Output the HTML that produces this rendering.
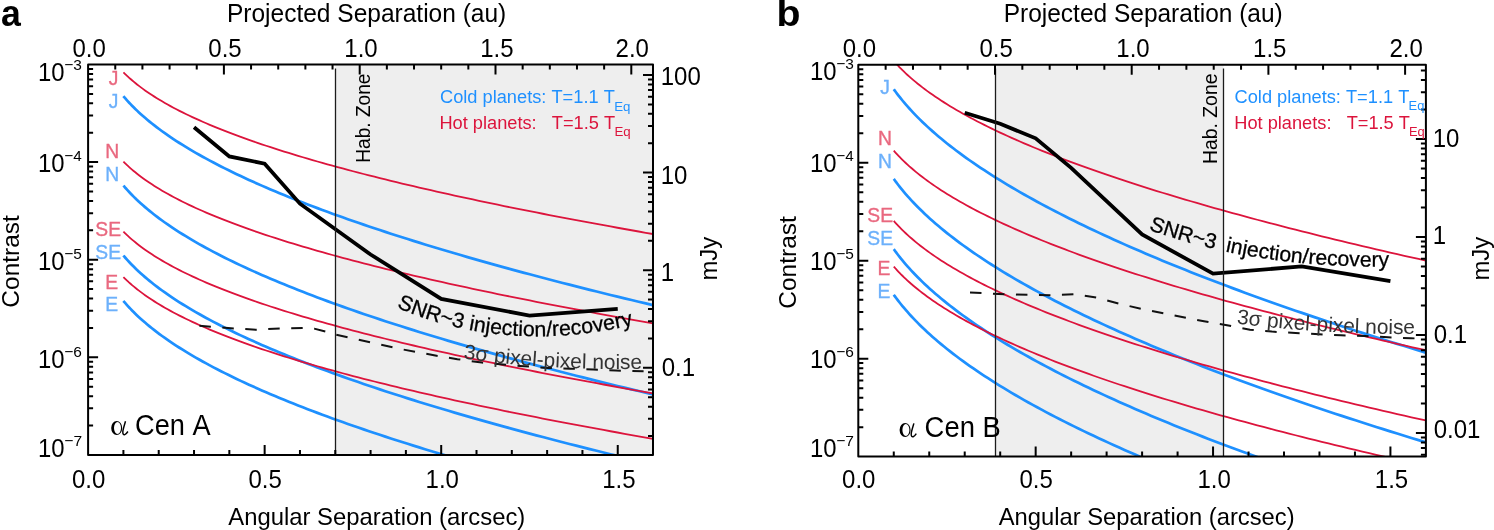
<!DOCTYPE html>
<html><head><meta charset="utf-8"><style>
html,body{margin:0;padding:0;background:#fff;overflow:hidden;}
svg{display:block;will-change:transform;}
text{font-kerning:none;}
</style></head><body>
<svg width="1494" height="530" viewBox="0 0 1494 530" font-family="Liberation Sans, sans-serif"><rect width="1494" height="530" fill="#fff"/><clipPath id="clipa"><rect x="88.10" y="64.50" width="564.90" height="390.40"/></clipPath><rect x="335.50" y="64.50" width="317.50" height="390.40" fill="#eeeeee"/><g clip-path="url(#clipa)" fill="none" stroke-linejoin="round"><path d="M123.41,72.31 L123.67,72.56 L124.19,73.08 L124.90,73.78 L125.77,74.63 L126.78,75.59 L127.92,76.65 L129.18,77.80 L130.55,79.02 L132.03,80.30 L133.62,81.64 L135.30,83.02 L137.07,84.44 L138.94,85.89 L140.90,87.37 L142.94,88.88 L145.06,90.40 L147.27,91.94 L149.55,93.49 L151.91,95.05 L154.35,96.62 L156.86,98.19 L159.45,99.77 L162.10,101.35 L164.83,102.93 L167.63,104.51 L170.49,106.09 L173.42,107.67 L176.42,109.25 L179.48,110.83 L182.60,112.40 L185.79,113.97 L189.04,115.53 L192.35,117.09 L195.73,118.64 L199.16,120.19 L202.65,121.74 L206.20,123.28 L209.81,124.81 L213.48,126.34 L217.20,127.87 L220.98,129.38 L224.82,130.90 L228.71,132.41 L232.65,133.91 L236.65,135.41 L240.70,136.90 L244.81,138.38 L248.97,139.87 L253.18,141.34 L257.44,142.81 L261.76,144.28 L266.13,145.74 L270.54,147.20 L275.01,148.65 L279.53,150.09 L284.09,151.53 L288.71,152.97 L293.37,154.40 L298.08,155.83 L302.85,157.25 L307.65,158.67 L312.51,160.09 L317.41,161.50 L322.36,162.90 L327.36,164.30 L332.41,165.70 L337.49,167.09 L342.63,168.48 L347.81,169.87 L353.04,171.25 L358.31,172.63 L363.62,174.00 L368.98,175.37 L374.39,176.74 L379.84,178.10 L385.33,179.46 L390.87,180.82 L396.44,182.17 L402.07,183.52 L407.73,184.87 L413.44,186.21 L419.19,187.55 L424.98,188.89 L430.82,190.22 L436.69,191.55 L442.61,192.88 L448.57,194.21 L454.57,195.53 L460.61,196.85 L466.69,198.16 L472.82,199.48 L478.98,200.79 L485.19,202.10 L491.43,203.40 L497.71,204.70 L504.04,206.01 L510.40,207.30 L516.80,208.60 L523.25,209.89 L529.73,211.18 L536.25,212.47 L542.81,213.75 L549.41,215.04 L556.04,216.32 L562.72,217.60 L569.43,218.87 L576.18,220.15 L582.97,221.42 L589.80,222.69 L596.66,223.95 L603.57,225.22 L610.51,226.48 L617.48,227.74 L624.50,229.00 L631.55,230.26 L638.64,231.51 L645.76,232.77 L652.92,234.02 L660.12,235.26" stroke="#dc143c" stroke-width="1.8"/><path d="M123.41,96.22 L123.67,96.53 L124.19,97.14 L124.90,97.96 L125.77,98.96 L126.78,100.09 L127.92,101.35 L129.18,102.71 L130.55,104.16 L132.03,105.69 L133.62,107.29 L135.30,108.94 L137.07,110.65 L138.94,112.40 L140.90,114.18 L142.94,116.00 L145.06,117.84 L147.27,119.71 L149.55,121.59 L151.91,123.50 L154.35,125.41 L156.86,127.34 L159.45,129.28 L162.10,131.23 L164.83,133.18 L167.63,135.14 L170.49,137.10 L173.42,139.06 L176.42,141.02 L179.48,142.99 L182.60,144.95 L185.79,146.92 L189.04,148.88 L192.35,150.84 L195.73,152.80 L199.16,154.76 L202.65,156.72 L206.20,158.67 L209.81,160.62 L213.48,162.56 L217.20,164.51 L220.98,166.45 L224.82,168.38 L228.71,170.31 L232.65,172.24 L236.65,174.16 L240.70,176.08 L244.81,178.00 L248.97,179.91 L253.18,181.82 L257.44,183.72 L261.76,185.62 L266.13,187.52 L270.54,189.41 L275.01,191.30 L279.53,193.18 L284.09,195.06 L288.71,196.94 L293.37,198.81 L298.08,200.68 L302.85,202.55 L307.65,204.41 L312.51,206.26 L317.41,208.12 L322.36,209.96 L327.36,211.81 L332.41,213.65 L337.49,215.49 L342.63,217.32 L347.81,219.15 L353.04,220.98 L358.31,222.81 L363.62,224.63 L368.98,226.44 L374.39,228.26 L379.84,230.07 L385.33,231.87 L390.87,233.68 L396.44,235.48 L402.07,237.27 L407.73,239.07 L413.44,240.86 L419.19,242.65 L424.98,244.43 L430.82,246.21 L436.69,247.99 L442.61,249.76 L448.57,251.54 L454.57,253.31 L460.61,255.07 L466.69,256.83 L472.82,258.59 L478.98,260.35 L485.19,262.11 L491.43,263.86 L497.71,265.61 L504.04,267.35 L510.40,269.10 L516.80,270.84 L523.25,272.58 L529.73,274.31 L536.25,276.04 L542.81,277.77 L549.41,279.50 L556.04,281.23 L562.72,282.95 L569.43,284.67 L576.18,286.39 L582.97,288.10 L589.80,289.82 L596.66,291.53 L603.57,293.23 L610.51,294.94 L617.48,296.64 L624.50,298.34 L631.55,300.04 L638.64,301.74 L645.76,303.43 L652.92,305.12 L660.12,306.81" stroke="#1e90ff" stroke-width="2.7"/><path d="M123.41,161.61 L123.67,161.87 L124.19,162.39 L124.90,163.09 L125.77,163.93 L126.78,164.89 L127.92,165.95 L129.18,167.10 L130.55,168.32 L132.03,169.60 L133.62,170.94 L135.30,172.32 L137.07,173.74 L138.94,175.20 L140.90,176.68 L142.94,178.18 L145.06,179.70 L147.27,181.24 L149.55,182.79 L151.91,184.35 L154.35,185.92 L156.86,187.50 L159.45,189.07 L162.10,190.65 L164.83,192.24 L167.63,193.82 L170.49,195.40 L173.42,196.98 L176.42,198.56 L179.48,200.13 L182.60,201.70 L185.79,203.27 L189.04,204.83 L192.35,206.39 L195.73,207.95 L199.16,209.50 L202.65,211.04 L206.20,212.58 L209.81,214.12 L213.48,215.65 L217.20,217.17 L220.98,218.69 L224.82,220.20 L228.71,221.71 L232.65,223.21 L236.65,224.71 L240.70,226.20 L244.81,227.69 L248.97,229.17 L253.18,230.65 L257.44,232.12 L261.76,233.58 L266.13,235.04 L270.54,236.50 L275.01,237.95 L279.53,239.40 L284.09,240.84 L288.71,242.27 L293.37,243.71 L298.08,245.13 L302.85,246.56 L307.65,247.98 L312.51,249.39 L317.41,250.80 L322.36,252.21 L327.36,253.61 L332.41,255.00 L337.49,256.40 L342.63,257.79 L347.81,259.17 L353.04,260.55 L358.31,261.93 L363.62,263.31 L368.98,264.68 L374.39,266.04 L379.84,267.41 L385.33,268.77 L390.87,270.12 L396.44,271.48 L402.07,272.83 L407.73,274.17 L413.44,275.52 L419.19,276.86 L424.98,278.19 L430.82,279.53 L436.69,280.86 L442.61,282.19 L448.57,283.51 L454.57,284.83 L460.61,286.15 L466.69,287.47 L472.82,288.78 L478.98,290.09 L485.19,291.40 L491.43,292.71 L497.71,294.01 L504.04,295.31 L510.40,296.61 L516.80,297.90 L523.25,299.19 L529.73,300.48 L536.25,301.77 L542.81,303.06 L549.41,304.34 L556.04,305.62 L562.72,306.90 L569.43,308.18 L576.18,309.45 L582.97,310.72 L589.80,311.99 L596.66,313.26 L603.57,314.52 L610.51,315.79 L617.48,317.05 L624.50,318.31 L631.55,319.56 L638.64,320.82 L645.76,322.07 L652.92,323.32 L660.12,324.57" stroke="#dc143c" stroke-width="1.8"/><path d="M123.41,185.53 L123.67,185.83 L124.19,186.44 L124.90,187.27 L125.77,188.26 L126.78,189.40 L127.92,190.66 L129.18,192.02 L130.55,193.47 L132.03,195.00 L133.62,196.59 L135.30,198.25 L137.07,199.95 L138.94,201.70 L140.90,203.48 L142.94,205.30 L145.06,207.14 L147.27,209.01 L149.55,210.90 L151.91,212.80 L154.35,214.72 L156.86,216.65 L159.45,218.58 L162.10,220.53 L164.83,222.48 L167.63,224.44 L170.49,226.40 L173.42,228.36 L176.42,230.33 L179.48,232.29 L182.60,234.26 L185.79,236.22 L189.04,238.18 L192.35,240.15 L195.73,242.11 L199.16,244.06 L202.65,246.02 L206.20,247.97 L209.81,249.92 L213.48,251.87 L217.20,253.81 L220.98,255.75 L224.82,257.68 L228.71,259.62 L232.65,261.54 L236.65,263.47 L240.70,265.39 L244.81,267.30 L248.97,269.22 L253.18,271.12 L257.44,273.03 L261.76,274.93 L266.13,276.82 L270.54,278.72 L275.01,280.60 L279.53,282.49 L284.09,284.37 L288.71,286.24 L293.37,288.12 L298.08,289.98 L302.85,291.85 L307.65,293.71 L312.51,295.57 L317.41,297.42 L322.36,299.27 L327.36,301.11 L332.41,302.96 L337.49,304.79 L342.63,306.63 L347.81,308.46 L353.04,310.29 L358.31,312.11 L363.62,313.93 L368.98,315.75 L374.39,317.56 L379.84,319.37 L385.33,321.18 L390.87,322.98 L396.44,324.78 L402.07,326.58 L407.73,328.37 L413.44,330.16 L419.19,331.95 L424.98,333.73 L430.82,335.51 L436.69,337.29 L442.61,339.07 L448.57,340.84 L454.57,342.61 L460.61,344.38 L466.69,346.14 L472.82,347.90 L478.98,349.66 L485.19,351.41 L491.43,353.16 L497.71,354.91 L504.04,356.66 L510.40,358.40 L516.80,360.14 L523.25,361.88 L529.73,363.62 L536.25,365.35 L542.81,367.08 L549.41,368.81 L556.04,370.53 L562.72,372.25 L569.43,373.97 L576.18,375.69 L582.97,377.41 L589.80,379.12 L596.66,380.83 L603.57,382.54 L610.51,384.24 L617.48,385.95 L624.50,387.65 L631.55,389.34 L638.64,391.04 L645.76,392.73 L652.92,394.42 L660.12,396.11" stroke="#1e90ff" stroke-width="2.7"/><path d="M123.41,231.59 L123.67,231.85 L124.19,232.37 L124.90,233.07 L125.77,233.91 L126.78,234.87 L127.92,235.93 L129.18,237.08 L130.55,238.30 L132.03,239.58 L133.62,240.92 L135.30,242.30 L137.07,243.72 L138.94,245.18 L140.90,246.66 L142.94,248.16 L145.06,249.68 L147.27,251.22 L149.55,252.77 L151.91,254.33 L154.35,255.90 L156.86,257.47 L159.45,259.05 L162.10,260.63 L164.83,262.21 L167.63,263.80 L170.49,265.38 L173.42,266.96 L176.42,268.53 L179.48,270.11 L182.60,271.68 L185.79,273.25 L189.04,274.81 L192.35,276.37 L195.73,277.93 L199.16,279.48 L202.65,281.02 L206.20,282.56 L209.81,284.10 L213.48,285.63 L217.20,287.15 L220.98,288.67 L224.82,290.18 L228.71,291.69 L232.65,293.19 L236.65,294.69 L240.70,296.18 L244.81,297.67 L248.97,299.15 L253.18,300.62 L257.44,302.10 L261.76,303.56 L266.13,305.02 L270.54,306.48 L275.01,307.93 L279.53,309.38 L284.09,310.82 L288.71,312.25 L293.37,313.69 L298.08,315.11 L302.85,316.54 L307.65,317.95 L312.51,319.37 L317.41,320.78 L322.36,322.18 L327.36,323.59 L332.41,324.98 L337.49,326.38 L342.63,327.77 L347.81,329.15 L353.04,330.53 L358.31,331.91 L363.62,333.29 L368.98,334.66 L374.39,336.02 L379.84,337.39 L385.33,338.75 L390.87,340.10 L396.44,341.46 L402.07,342.81 L407.73,344.15 L413.44,345.50 L419.19,346.84 L424.98,348.17 L430.82,349.51 L436.69,350.84 L442.61,352.17 L448.57,353.49 L454.57,354.81 L460.61,356.13 L466.69,357.45 L472.82,358.76 L478.98,360.07 L485.19,361.38 L491.43,362.69 L497.71,363.99 L504.04,365.29 L510.40,366.59 L516.80,367.88 L523.25,369.17 L529.73,370.46 L536.25,371.75 L542.81,373.04 L549.41,374.32 L556.04,375.60 L562.72,376.88 L569.43,378.15 L576.18,379.43 L582.97,380.70 L589.80,381.97 L596.66,383.24 L603.57,384.50 L610.51,385.76 L617.48,387.03 L624.50,388.28 L631.55,389.54 L638.64,390.80 L645.76,392.05 L652.92,393.30 L660.12,394.55" stroke="#dc143c" stroke-width="1.8"/><path d="M123.41,255.50 L123.67,255.81 L124.19,256.42 L124.90,257.25 L125.77,258.24 L126.78,259.38 L127.92,260.63 L129.18,262.00 L130.55,263.45 L132.03,264.98 L133.62,266.57 L135.30,268.23 L137.07,269.93 L138.94,271.68 L140.90,273.46 L142.94,275.28 L145.06,277.12 L147.27,278.99 L149.55,280.88 L151.91,282.78 L154.35,284.70 L156.86,286.63 L159.45,288.56 L162.10,290.51 L164.83,292.46 L167.63,294.42 L170.49,296.38 L173.42,298.34 L176.42,300.31 L179.48,302.27 L182.60,304.24 L185.79,306.20 L189.04,308.16 L192.35,310.13 L195.73,312.09 L199.16,314.04 L202.65,316.00 L206.20,317.95 L209.81,319.90 L213.48,321.85 L217.20,323.79 L220.98,325.73 L224.82,327.66 L228.71,329.60 L232.65,331.52 L236.65,333.45 L240.70,335.37 L244.81,337.28 L248.97,339.20 L253.18,341.10 L257.44,343.01 L261.76,344.91 L266.13,346.80 L270.54,348.70 L275.01,350.58 L279.53,352.47 L284.09,354.35 L288.71,356.22 L293.37,358.10 L298.08,359.96 L302.85,361.83 L307.65,363.69 L312.51,365.55 L317.41,367.40 L322.36,369.25 L327.36,371.09 L332.41,372.93 L337.49,374.77 L342.63,376.61 L347.81,378.44 L353.04,380.27 L358.31,382.09 L363.62,383.91 L368.98,385.73 L374.39,387.54 L379.84,389.35 L385.33,391.16 L390.87,392.96 L396.44,394.76 L402.07,396.56 L407.73,398.35 L413.44,400.14 L419.19,401.93 L424.98,403.71 L430.82,405.49 L436.69,407.27 L442.61,409.05 L448.57,410.82 L454.57,412.59 L460.61,414.35 L466.69,416.12 L472.82,417.88 L478.98,419.64 L485.19,421.39 L491.43,423.14 L497.71,424.89 L504.04,426.64 L510.40,428.38 L516.80,430.12 L523.25,431.86 L529.73,433.60 L536.25,435.33 L542.81,437.06 L549.41,438.79 L556.04,440.51 L562.72,442.23 L569.43,443.95 L576.18,445.67 L582.97,447.39 L589.80,449.10 L596.66,450.81 L603.57,452.52 L610.51,454.22 L617.48,455.92 L624.50,457.62 L631.55,459.32 L638.64,461.02 L645.76,462.71 L652.92,464.40 L660.12,466.09" stroke="#1e90ff" stroke-width="2.7"/><path d="M123.41,277.07 L123.67,277.33 L124.19,277.85 L124.90,278.55 L125.77,279.39 L126.78,280.35 L127.92,281.41 L129.18,282.56 L130.55,283.78 L132.03,285.07 L133.62,286.40 L135.30,287.78 L137.07,289.21 L138.94,290.66 L140.90,292.14 L142.94,293.64 L145.06,295.17 L147.27,296.70 L149.55,298.25 L151.91,299.81 L154.35,301.38 L156.86,302.96 L159.45,304.53 L162.10,306.11 L164.83,307.70 L167.63,309.28 L170.49,310.86 L173.42,312.44 L176.42,314.02 L179.48,315.59 L182.60,317.16 L185.79,318.73 L189.04,320.29 L192.35,321.85 L195.73,323.41 L199.16,324.96 L202.65,326.50 L206.20,328.04 L209.81,329.58 L213.48,331.11 L217.20,332.63 L220.98,334.15 L224.82,335.66 L228.71,337.17 L232.65,338.67 L236.65,340.17 L240.70,341.66 L244.81,343.15 L248.97,344.63 L253.18,346.11 L257.44,347.58 L261.76,349.04 L266.13,350.50 L270.54,351.96 L275.01,353.41 L279.53,354.86 L284.09,356.30 L288.71,357.74 L293.37,359.17 L298.08,360.59 L302.85,362.02 L307.65,363.44 L312.51,364.85 L317.41,366.26 L322.36,367.67 L327.36,369.07 L332.41,370.46 L337.49,371.86 L342.63,373.25 L347.81,374.63 L353.04,376.01 L358.31,377.39 L363.62,378.77 L368.98,380.14 L374.39,381.50 L379.84,382.87 L385.33,384.23 L390.87,385.58 L396.44,386.94 L402.07,388.29 L407.73,389.63 L413.44,390.98 L419.19,392.32 L424.98,393.65 L430.82,394.99 L436.69,396.32 L442.61,397.65 L448.57,398.97 L454.57,400.29 L460.61,401.61 L466.69,402.93 L472.82,404.24 L478.98,405.55 L485.19,406.86 L491.43,408.17 L497.71,409.47 L504.04,410.77 L510.40,412.07 L516.80,413.36 L523.25,414.66 L529.73,415.95 L536.25,417.23 L542.81,418.52 L549.41,419.80 L556.04,421.08 L562.72,422.36 L569.43,423.64 L576.18,424.91 L582.97,426.18 L589.80,427.45 L596.66,428.72 L603.57,429.98 L610.51,431.25 L617.48,432.51 L624.50,433.77 L631.55,435.02 L638.64,436.28 L645.76,437.53 L652.92,438.78 L660.12,440.03" stroke="#dc143c" stroke-width="1.8"/><path d="M123.41,300.99 L123.67,301.29 L124.19,301.90 L124.90,302.73 L125.77,303.72 L126.78,304.86 L127.92,306.12 L129.18,307.48 L130.55,308.93 L132.03,310.46 L133.62,312.05 L135.30,313.71 L137.07,315.41 L138.94,317.16 L140.90,318.94 L142.94,320.76 L145.06,322.60 L147.27,324.47 L149.55,326.36 L151.91,328.26 L154.35,330.18 L156.86,332.11 L159.45,334.05 L162.10,335.99 L164.83,337.94 L167.63,339.90 L170.49,341.86 L173.42,343.82 L176.42,345.79 L179.48,347.75 L182.60,349.72 L185.79,351.68 L189.04,353.65 L192.35,355.61 L195.73,357.57 L199.16,359.53 L202.65,361.48 L206.20,363.43 L209.81,365.38 L213.48,367.33 L217.20,369.27 L220.98,371.21 L224.82,373.15 L228.71,375.08 L232.65,377.01 L236.65,378.93 L240.70,380.85 L244.81,382.77 L248.97,384.68 L253.18,386.59 L257.44,388.49 L261.76,390.39 L266.13,392.29 L270.54,394.18 L275.01,396.07 L279.53,397.95 L284.09,399.83 L288.71,401.71 L293.37,403.58 L298.08,405.45 L302.85,407.31 L307.65,409.17 L312.51,411.03 L317.41,412.88 L322.36,414.73 L327.36,416.57 L332.41,418.42 L337.49,420.25 L342.63,422.09 L347.81,423.92 L353.04,425.75 L358.31,427.57 L363.62,429.39 L368.98,431.21 L374.39,433.02 L379.84,434.83 L385.33,436.64 L390.87,438.44 L396.44,440.24 L402.07,442.04 L407.73,443.83 L413.44,445.62 L419.19,447.41 L424.98,449.19 L430.82,450.98 L436.69,452.75 L442.61,454.53 L448.57,456.30 L454.57,458.07 L460.61,459.84 L466.69,461.60 L472.82,463.36 L478.98,465.12 L485.19,466.87 L491.43,468.62 L497.71,470.37 L504.04,472.12 L510.40,473.86 L516.80,475.60 L523.25,477.34 L529.73,479.08 L536.25,480.81 L542.81,482.54 L549.41,484.27 L556.04,485.99 L562.72,487.71 L569.43,489.43 L576.18,491.15 L582.97,492.87 L589.80,494.58 L596.66,496.29 L603.57,498.00 L610.51,499.70 L617.48,501.41 L624.50,503.11 L631.55,504.80 L638.64,506.50 L645.76,508.19 L652.92,509.88 L660.12,511.57" stroke="#1e90ff" stroke-width="2.7"/><path d="M199.40,325.70 L222.00,327.60 L233.70,328.40 L256.60,329.80 L279.70,328.40 L302.80,327.90 L314.20,328.60 L325.50,331.60 L336.20,334.80 L347.60,337.30 L403.50,349.60 L436.50,355.70 L457.40,359.20 L481.80,362.60 L520.00,366.00 L548.00,367.90 L570.50,368.70 L593.20,369.60 L615.80,370.50 L643.60,371.30" stroke="#111" stroke-width="2" stroke-dasharray="11.5 11.5"/><path d="M194.03,127.30 L229.34,156.40 L264.65,163.70 L299.96,203.70 L370.58,254.50 L441.20,298.90 L529.48,315.60 L617.75,308.90" stroke="#000" stroke-width="3.8" stroke-linejoin="miter"/></g><line x1="335.50" y1="68.5" x2="335.50" y2="454.90" stroke="#1c1c1c" stroke-width="1.3"/><path d="M123.41,454.90v-5 M158.72,454.90v-5 M194.03,454.90v-5 M229.34,454.90v-5 M264.65,454.90v-10 M299.96,454.90v-5 M335.27,454.90v-5 M370.58,454.90v-5 M405.89,454.90v-5 M441.20,454.90v-10 M476.51,454.90v-5 M511.82,454.90v-5 M547.13,454.90v-5 M582.44,454.90v-5 M617.75,454.90v-10 M115.26,64.50v5 M142.42,64.50v5 M169.58,64.50v5 M196.74,64.50v5 M223.90,64.50v10 M251.06,64.50v5 M278.22,64.50v5 M305.38,64.50v5 M332.54,64.50v5 M359.70,64.50v10 M386.86,64.50v5 M414.02,64.50v5 M441.18,64.50v5 M468.34,64.50v5 M495.50,64.50v10 M522.66,64.50v5 M549.82,64.50v5 M576.98,64.50v5 M604.14,64.50v5 M631.30,64.50v10 M88.10,425.52h5 M88.10,408.33h5 M88.10,396.14h5 M88.10,386.68h5 M88.10,378.95h5 M88.10,372.42h5 M88.10,366.76h5 M88.10,361.77h5 M88.10,357.30h10 M88.10,327.92h5 M88.10,310.73h5 M88.10,298.54h5 M88.10,289.08h5 M88.10,281.35h5 M88.10,274.82h5 M88.10,269.16h5 M88.10,264.17h5 M88.10,259.70h10 M88.10,230.32h5 M88.10,213.13h5 M88.10,200.94h5 M88.10,191.48h5 M88.10,183.75h5 M88.10,177.22h5 M88.10,171.56h5 M88.10,166.57h5 M88.10,162.10h10 M88.10,132.72h5 M88.10,115.53h5 M88.10,103.34h5 M88.10,93.88h5 M88.10,86.15h5 M88.10,79.62h5 M88.10,73.96h5 M88.10,68.97h5 M653.00,436.02h-5 M653.00,418.83h-5 M653.00,406.64h-5 M653.00,397.18h-5 M653.00,389.45h-5 M653.00,382.92h-5 M653.00,377.26h-5 M653.00,372.27h-5 M653.00,367.80h-10 M653.00,338.42h-5 M653.00,321.23h-5 M653.00,309.04h-5 M653.00,299.58h-5 M653.00,291.85h-5 M653.00,285.32h-5 M653.00,279.66h-5 M653.00,274.67h-5 M653.00,270.20h-10 M653.00,240.82h-5 M653.00,223.63h-5 M653.00,211.44h-5 M653.00,201.98h-5 M653.00,194.25h-5 M653.00,187.72h-5 M653.00,182.06h-5 M653.00,177.07h-5 M653.00,172.60h-10 M653.00,143.22h-5 M653.00,126.03h-5 M653.00,113.84h-5 M653.00,104.38h-5 M653.00,96.65h-5 M653.00,90.12h-5 M653.00,84.46h-5 M653.00,79.47h-5 M653.00,75.00h-10" stroke="#000" stroke-width="2" fill="none"/><rect x="88.10" y="64.50" width="564.90" height="390.40" fill="none" stroke="#000" stroke-width="2" stroke-linejoin="round"/><text x="72.52" y="56.50" font-size="26" textLength="33.36" lengthAdjust="spacingAndGlyphs">0.0</text><text x="208.35" y="56.50" font-size="26" textLength="33.36" lengthAdjust="spacingAndGlyphs">0.5</text><text x="344.37" y="56.50" font-size="26" textLength="33.36" lengthAdjust="spacingAndGlyphs">1.0</text><text x="480.21" y="56.50" font-size="26" textLength="33.36" lengthAdjust="spacingAndGlyphs">1.5</text><text x="615.58" y="56.50" font-size="26" textLength="33.36" lengthAdjust="spacingAndGlyphs">2.0</text><text x="71.92" y="488.40" font-size="26" textLength="33.36" lengthAdjust="spacingAndGlyphs">0.0</text><text x="248.50" y="488.40" font-size="26" textLength="33.36" lengthAdjust="spacingAndGlyphs">0.5</text><text x="425.57" y="488.40" font-size="26" textLength="33.36" lengthAdjust="spacingAndGlyphs">1.0</text><text x="602.16" y="488.40" font-size="26" textLength="33.36" lengthAdjust="spacingAndGlyphs">1.5</text><clipPath id="clipb"><rect x="858.30" y="64.70" width="567.60" height="391.90"/></clipPath><rect x="995.50" y="64.70" width="228.00" height="391.90" fill="#eeeeee"/><g clip-path="url(#clipb)" fill="none" stroke-linejoin="round"><path d="M893.77,60.99 L894.03,61.28 L894.56,61.88 L895.27,62.68 L896.14,63.64 L897.16,64.75 L898.30,65.97 L899.57,67.29 L900.95,68.69 L902.44,70.18 L904.03,71.72 L905.72,73.32 L907.50,74.97 L909.38,76.66 L911.34,78.39 L913.39,80.15 L915.53,81.93 L917.74,83.73 L920.04,85.55 L922.41,87.39 L924.86,89.24 L927.38,91.10 L929.98,92.96 L932.65,94.84 L935.39,96.72 L938.20,98.60 L941.07,100.49 L944.02,102.37 L947.03,104.26 L950.10,106.15 L953.24,108.04 L956.45,109.92 L959.71,111.81 L963.04,113.69 L966.43,115.57 L969.88,117.45 L973.39,119.32 L976.95,121.19 L980.58,123.06 L984.26,124.92 L988.00,126.78 L991.80,128.64 L995.66,130.49 L999.56,132.34 L1003.53,134.18 L1007.55,136.02 L1011.62,137.86 L1015.74,139.69 L1019.92,141.51 L1024.15,143.34 L1028.44,145.15 L1032.77,146.97 L1037.16,148.78 L1041.59,150.58 L1046.08,152.38 L1050.62,154.18 L1055.21,155.97 L1059.84,157.76 L1064.53,159.55 L1069.27,161.33 L1074.05,163.10 L1078.88,164.88 L1083.76,166.65 L1088.69,168.41 L1093.66,170.17 L1098.68,171.93 L1103.75,173.68 L1108.86,175.43 L1114.02,177.18 L1119.22,178.92 L1124.48,180.66 L1129.77,182.40 L1135.11,184.13 L1140.50,185.86 L1145.93,187.58 L1151.40,189.30 L1156.92,191.02 L1162.48,192.74 L1168.09,194.45 L1173.73,196.16 L1179.43,197.86 L1185.16,199.56 L1190.94,201.26 L1196.76,202.96 L1202.62,204.65 L1208.52,206.34 L1214.47,208.03 L1220.45,209.71 L1226.48,211.39 L1232.55,213.07 L1238.66,214.74 L1244.82,216.42 L1251.01,218.08 L1257.24,219.75 L1263.51,221.41 L1269.83,223.08 L1276.18,224.73 L1282.57,226.39 L1289.01,228.04 L1295.48,229.69 L1301.99,231.34 L1308.54,232.99 L1315.13,234.63 L1321.76,236.27 L1328.43,237.91 L1335.14,239.54 L1341.88,241.17 L1348.66,242.80 L1355.48,244.43 L1362.34,246.06 L1369.24,247.68 L1376.18,249.30 L1383.15,250.92 L1390.16,252.53 L1397.20,254.15 L1404.29,255.76 L1411.41,257.37 L1418.57,258.97 L1425.76,260.58 L1432.99,262.18" stroke="#dc143c" stroke-width="1.8"/><path d="M893.77,89.25 L894.03,89.61 L894.56,90.33 L895.27,91.31 L896.14,92.48 L897.16,93.83 L898.30,95.32 L899.57,96.94 L900.95,98.67 L902.44,100.49 L904.03,102.40 L905.72,104.38 L907.50,106.42 L909.38,108.52 L911.34,110.67 L913.39,112.86 L915.53,115.08 L917.74,117.34 L920.04,119.63 L922.41,121.94 L924.86,124.28 L927.38,126.63 L929.98,128.99 L932.65,131.38 L935.39,133.77 L938.20,136.17 L941.07,138.58 L944.02,141.00 L947.03,143.43 L950.10,145.85 L953.24,148.29 L956.45,150.72 L959.71,153.16 L963.04,155.60 L966.43,158.04 L969.88,160.48 L973.39,162.92 L976.95,165.36 L980.58,167.80 L984.26,170.23 L988.00,172.67 L991.80,175.10 L995.66,177.54 L999.56,179.97 L1003.53,182.39 L1007.55,184.82 L1011.62,187.24 L1015.74,189.66 L1019.92,192.07 L1024.15,194.49 L1028.44,196.90 L1032.77,199.30 L1037.16,201.71 L1041.59,204.11 L1046.08,206.50 L1050.62,208.90 L1055.21,211.29 L1059.84,213.67 L1064.53,216.05 L1069.27,218.43 L1074.05,220.81 L1078.88,223.18 L1083.76,225.55 L1088.69,227.91 L1093.66,230.27 L1098.68,232.63 L1103.75,234.98 L1108.86,237.33 L1114.02,239.68 L1119.22,242.02 L1124.48,244.36 L1129.77,246.69 L1135.11,249.03 L1140.50,251.35 L1145.93,253.68 L1151.40,256.00 L1156.92,258.32 L1162.48,260.63 L1168.09,262.94 L1173.73,265.25 L1179.43,267.55 L1185.16,269.85 L1190.94,272.14 L1196.76,274.44 L1202.62,276.73 L1208.52,279.01 L1214.47,281.29 L1220.45,283.57 L1226.48,285.85 L1232.55,288.12 L1238.66,290.39 L1244.82,292.65 L1251.01,294.92 L1257.24,297.18 L1263.51,299.43 L1269.83,301.68 L1276.18,303.93 L1282.57,306.18 L1289.01,308.42 L1295.48,310.66 L1301.99,312.90 L1308.54,315.13 L1315.13,317.36 L1321.76,319.59 L1328.43,321.81 L1335.14,324.03 L1341.88,326.25 L1348.66,328.46 L1355.48,330.68 L1362.34,332.88 L1369.24,335.09 L1376.18,337.29 L1383.15,339.49 L1390.16,341.69 L1397.20,343.88 L1404.29,346.08 L1411.41,348.26 L1418.57,350.45 L1425.76,352.63 L1432.99,354.81" stroke="#1e90ff" stroke-width="2.7"/><path d="M893.77,150.64 L894.03,150.93 L894.56,151.53 L895.27,152.33 L896.14,153.29 L897.16,154.40 L898.30,155.62 L899.57,156.94 L900.95,158.35 L902.44,159.83 L904.03,161.37 L905.72,162.98 L907.50,164.63 L909.38,166.32 L911.34,168.04 L913.39,169.80 L915.53,171.58 L917.74,173.38 L920.04,175.20 L922.41,177.04 L924.86,178.89 L927.38,180.75 L929.98,182.61 L932.65,184.49 L935.39,186.37 L938.20,188.25 L941.07,190.14 L944.02,192.02 L947.03,193.91 L950.10,195.80 L953.24,197.69 L956.45,199.57 L959.71,201.46 L963.04,203.34 L966.43,205.22 L969.88,207.10 L973.39,208.97 L976.95,210.84 L980.58,212.71 L984.26,214.57 L988.00,216.43 L991.80,218.29 L995.66,220.14 L999.56,221.99 L1003.53,223.83 L1007.55,225.67 L1011.62,227.51 L1015.74,229.34 L1019.92,231.16 L1024.15,232.99 L1028.44,234.81 L1032.77,236.62 L1037.16,238.43 L1041.59,240.23 L1046.08,242.04 L1050.62,243.83 L1055.21,245.63 L1059.84,247.41 L1064.53,249.20 L1069.27,250.98 L1074.05,252.76 L1078.88,254.53 L1083.76,256.30 L1088.69,258.06 L1093.66,259.82 L1098.68,261.58 L1103.75,263.33 L1108.86,265.08 L1114.02,266.83 L1119.22,268.57 L1124.48,270.31 L1129.77,272.05 L1135.11,273.78 L1140.50,275.51 L1145.93,277.23 L1151.40,278.95 L1156.92,280.67 L1162.48,282.39 L1168.09,284.10 L1173.73,285.81 L1179.43,287.51 L1185.16,289.21 L1190.94,290.91 L1196.76,292.61 L1202.62,294.30 L1208.52,295.99 L1214.47,297.68 L1220.45,299.36 L1226.48,301.04 L1232.55,302.72 L1238.66,304.40 L1244.82,306.07 L1251.01,307.74 L1257.24,309.40 L1263.51,311.07 L1269.83,312.73 L1276.18,314.39 L1282.57,316.04 L1289.01,317.69 L1295.48,319.34 L1301.99,320.99 L1308.54,322.64 L1315.13,324.28 L1321.76,325.92 L1328.43,327.56 L1335.14,329.19 L1341.88,330.82 L1348.66,332.45 L1355.48,334.08 L1362.34,335.71 L1369.24,337.33 L1376.18,338.95 L1383.15,340.57 L1390.16,342.18 L1397.20,343.80 L1404.29,345.41 L1411.41,347.02 L1418.57,348.63 L1425.76,350.23 L1432.99,351.83" stroke="#dc143c" stroke-width="1.8"/><path d="M893.77,178.90 L894.03,179.26 L894.56,179.99 L895.27,180.96 L896.14,182.14 L897.16,183.48 L898.30,184.97 L899.57,186.59 L900.95,188.32 L902.44,190.14 L904.03,192.05 L905.72,194.03 L907.50,196.07 L909.38,198.17 L911.34,200.32 L913.39,202.51 L915.53,204.73 L917.74,206.99 L920.04,209.28 L922.41,211.59 L924.86,213.93 L927.38,216.28 L929.98,218.65 L932.65,221.03 L935.39,223.42 L938.20,225.82 L941.07,228.24 L944.02,230.65 L947.03,233.08 L950.10,235.51 L953.24,237.94 L956.45,240.37 L959.71,242.81 L963.04,245.25 L966.43,247.69 L969.88,250.13 L973.39,252.57 L976.95,255.01 L980.58,257.45 L984.26,259.89 L988.00,262.32 L991.80,264.76 L995.66,267.19 L999.56,269.62 L1003.53,272.04 L1007.55,274.47 L1011.62,276.89 L1015.74,279.31 L1019.92,281.73 L1024.15,284.14 L1028.44,286.55 L1032.77,288.96 L1037.16,291.36 L1041.59,293.76 L1046.08,296.15 L1050.62,298.55 L1055.21,300.94 L1059.84,303.32 L1064.53,305.71 L1069.27,308.08 L1074.05,310.46 L1078.88,312.83 L1083.76,315.20 L1088.69,317.56 L1093.66,319.92 L1098.68,322.28 L1103.75,324.63 L1108.86,326.98 L1114.02,329.33 L1119.22,331.67 L1124.48,334.01 L1129.77,336.35 L1135.11,338.68 L1140.50,341.01 L1145.93,343.33 L1151.40,345.65 L1156.92,347.97 L1162.48,350.28 L1168.09,352.59 L1173.73,354.90 L1179.43,357.20 L1185.16,359.50 L1190.94,361.80 L1196.76,364.09 L1202.62,366.38 L1208.52,368.66 L1214.47,370.95 L1220.45,373.22 L1226.48,375.50 L1232.55,377.77 L1238.66,380.04 L1244.82,382.31 L1251.01,384.57 L1257.24,386.83 L1263.51,389.08 L1269.83,391.33 L1276.18,393.58 L1282.57,395.83 L1289.01,398.07 L1295.48,400.31 L1301.99,402.55 L1308.54,404.78 L1315.13,407.01 L1321.76,409.24 L1328.43,411.46 L1335.14,413.68 L1341.88,415.90 L1348.66,418.12 L1355.48,420.33 L1362.34,422.54 L1369.24,424.74 L1376.18,426.95 L1383.15,429.15 L1390.16,431.34 L1397.20,433.54 L1404.29,435.73 L1411.41,437.92 L1418.57,440.10 L1425.76,442.28 L1432.99,444.46" stroke="#1e90ff" stroke-width="2.7"/><path d="M893.77,220.89 L894.03,221.19 L894.56,221.78 L895.27,222.58 L896.14,223.55 L897.16,224.65 L898.30,225.87 L899.57,227.19 L900.95,228.60 L902.44,230.08 L904.03,231.63 L905.72,233.23 L907.50,234.88 L909.38,236.57 L911.34,238.29 L913.39,240.05 L915.53,241.83 L917.74,243.63 L920.04,245.45 L922.41,247.29 L924.86,249.14 L927.38,251.00 L929.98,252.87 L932.65,254.74 L935.39,256.62 L938.20,258.50 L941.07,260.39 L944.02,262.28 L947.03,264.16 L950.10,266.05 L953.24,267.94 L956.45,269.83 L959.71,271.71 L963.04,273.59 L966.43,275.47 L969.88,277.35 L973.39,279.22 L976.95,281.10 L980.58,282.96 L984.26,284.83 L988.00,286.69 L991.80,288.54 L995.66,290.39 L999.56,292.24 L1003.53,294.08 L1007.55,295.92 L1011.62,297.76 L1015.74,299.59 L1019.92,301.42 L1024.15,303.24 L1028.44,305.06 L1032.77,306.87 L1037.16,308.68 L1041.59,310.49 L1046.08,312.29 L1050.62,314.08 L1055.21,315.88 L1059.84,317.67 L1064.53,319.45 L1069.27,321.23 L1074.05,323.01 L1078.88,324.78 L1083.76,326.55 L1088.69,328.31 L1093.66,330.08 L1098.68,331.83 L1103.75,333.59 L1108.86,335.34 L1114.02,337.08 L1119.22,338.82 L1124.48,340.56 L1129.77,342.30 L1135.11,344.03 L1140.50,345.76 L1145.93,347.48 L1151.40,349.21 L1156.92,350.92 L1162.48,352.64 L1168.09,354.35 L1173.73,356.06 L1179.43,357.76 L1185.16,359.47 L1190.94,361.16 L1196.76,362.86 L1202.62,364.55 L1208.52,366.24 L1214.47,367.93 L1220.45,369.61 L1226.48,371.29 L1232.55,372.97 L1238.66,374.65 L1244.82,376.32 L1251.01,377.99 L1257.24,379.65 L1263.51,381.32 L1269.83,382.98 L1276.18,384.64 L1282.57,386.29 L1289.01,387.95 L1295.48,389.60 L1301.99,391.24 L1308.54,392.89 L1315.13,394.53 L1321.76,396.17 L1328.43,397.81 L1335.14,399.44 L1341.88,401.08 L1348.66,402.71 L1355.48,404.33 L1362.34,405.96 L1369.24,407.58 L1376.18,409.20 L1383.15,410.82 L1390.16,412.44 L1397.20,414.05 L1404.29,415.66 L1411.41,417.27 L1418.57,418.88 L1425.76,420.48 L1432.99,422.08" stroke="#dc143c" stroke-width="1.8"/><path d="M893.77,249.16 L894.03,249.51 L894.56,250.24 L895.27,251.21 L896.14,252.39 L897.16,253.73 L898.30,255.23 L899.57,256.84 L900.95,258.57 L902.44,260.39 L904.03,262.30 L905.72,264.28 L907.50,266.32 L909.38,268.42 L911.34,270.57 L913.39,272.76 L915.53,274.99 L917.74,277.25 L920.04,279.53 L922.41,281.85 L924.86,284.18 L927.38,286.53 L929.98,288.90 L932.65,291.28 L935.39,293.67 L938.20,296.08 L941.07,298.49 L944.02,300.91 L947.03,303.33 L950.10,305.76 L953.24,308.19 L956.45,310.63 L959.71,313.06 L963.04,315.50 L966.43,317.94 L969.88,320.38 L973.39,322.82 L976.95,325.26 L980.58,327.70 L984.26,330.14 L988.00,332.57 L991.80,335.01 L995.66,337.44 L999.56,339.87 L1003.53,342.30 L1007.55,344.72 L1011.62,347.14 L1015.74,349.56 L1019.92,351.98 L1024.15,354.39 L1028.44,356.80 L1032.77,359.21 L1037.16,361.61 L1041.59,364.01 L1046.08,366.41 L1050.62,368.80 L1055.21,371.19 L1059.84,373.58 L1064.53,375.96 L1069.27,378.34 L1074.05,380.71 L1078.88,383.08 L1083.76,385.45 L1088.69,387.82 L1093.66,390.18 L1098.68,392.53 L1103.75,394.89 L1108.86,397.24 L1114.02,399.58 L1119.22,401.92 L1124.48,404.26 L1129.77,406.60 L1135.11,408.93 L1140.50,411.26 L1145.93,413.58 L1151.40,415.90 L1156.92,418.22 L1162.48,420.53 L1168.09,422.84 L1173.73,425.15 L1179.43,427.45 L1185.16,429.75 L1190.94,432.05 L1196.76,434.34 L1202.62,436.63 L1208.52,438.91 L1214.47,441.20 L1220.45,443.48 L1226.48,445.75 L1232.55,448.02 L1238.66,450.29 L1244.82,452.56 L1251.01,454.82 L1257.24,457.08 L1263.51,459.33 L1269.83,461.59 L1276.18,463.84 L1282.57,466.08 L1289.01,468.32 L1295.48,470.56 L1301.99,472.80 L1308.54,475.03 L1315.13,477.26 L1321.76,479.49 L1328.43,481.71 L1335.14,483.93 L1341.88,486.15 L1348.66,488.37 L1355.48,490.58 L1362.34,492.79 L1369.24,494.99 L1376.18,497.20 L1383.15,499.40 L1390.16,501.59 L1397.20,503.79 L1404.29,505.98 L1411.41,508.17 L1418.57,510.35 L1425.76,512.54 L1432.99,514.72" stroke="#1e90ff" stroke-width="2.7"/><path d="M893.77,266.55 L894.03,266.84 L894.56,267.44 L895.27,268.24 L896.14,269.20 L897.16,270.31 L898.30,271.53 L899.57,272.85 L900.95,274.26 L902.44,275.74 L904.03,277.28 L905.72,278.89 L907.50,280.54 L909.38,282.23 L911.34,283.95 L913.39,285.71 L915.53,287.49 L917.74,289.29 L920.04,291.11 L922.41,292.95 L924.86,294.80 L927.38,296.66 L929.98,298.52 L932.65,300.40 L935.39,302.28 L938.20,304.16 L941.07,306.05 L944.02,307.93 L947.03,309.82 L950.10,311.71 L953.24,313.60 L956.45,315.49 L959.71,317.37 L963.04,319.25 L966.43,321.13 L969.88,323.01 L973.39,324.88 L976.95,326.75 L980.58,328.62 L984.26,330.48 L988.00,332.34 L991.80,334.20 L995.66,336.05 L999.56,337.90 L1003.53,339.74 L1007.55,341.58 L1011.62,343.42 L1015.74,345.25 L1019.92,347.07 L1024.15,348.90 L1028.44,350.72 L1032.77,352.53 L1037.16,354.34 L1041.59,356.14 L1046.08,357.95 L1050.62,359.74 L1055.21,361.54 L1059.84,363.32 L1064.53,365.11 L1069.27,366.89 L1074.05,368.67 L1078.88,370.44 L1083.76,372.21 L1088.69,373.97 L1093.66,375.73 L1098.68,377.49 L1103.75,379.24 L1108.86,380.99 L1114.02,382.74 L1119.22,384.48 L1124.48,386.22 L1129.77,387.96 L1135.11,389.69 L1140.50,391.42 L1145.93,393.14 L1151.40,394.86 L1156.92,396.58 L1162.48,398.30 L1168.09,400.01 L1173.73,401.72 L1179.43,403.42 L1185.16,405.12 L1190.94,406.82 L1196.76,408.52 L1202.62,410.21 L1208.52,411.90 L1214.47,413.59 L1220.45,415.27 L1226.48,416.95 L1232.55,418.63 L1238.66,420.31 L1244.82,421.98 L1251.01,423.65 L1257.24,425.31 L1263.51,426.98 L1269.83,428.64 L1276.18,430.30 L1282.57,431.95 L1289.01,433.60 L1295.48,435.25 L1301.99,436.90 L1308.54,438.55 L1315.13,440.19 L1321.76,441.83 L1328.43,443.47 L1335.14,445.10 L1341.88,446.73 L1348.66,448.36 L1355.48,449.99 L1362.34,451.62 L1369.24,453.24 L1376.18,454.86 L1383.15,456.48 L1390.16,458.10 L1397.20,459.71 L1404.29,461.32 L1411.41,462.93 L1418.57,464.54 L1425.76,466.14 L1432.99,467.74" stroke="#dc143c" stroke-width="1.8"/><path d="M893.77,294.81 L894.03,295.17 L894.56,295.90 L895.27,296.87 L896.14,298.05 L897.16,299.39 L898.30,300.89 L899.57,302.50 L900.95,304.23 L902.44,306.05 L904.03,307.96 L905.72,309.94 L907.50,311.98 L909.38,314.08 L911.34,316.23 L913.39,318.42 L915.53,320.64 L917.74,322.90 L920.04,325.19 L922.41,327.50 L924.86,329.84 L927.38,332.19 L929.98,334.56 L932.65,336.94 L935.39,339.33 L938.20,341.73 L941.07,344.15 L944.02,346.56 L947.03,348.99 L950.10,351.42 L953.24,353.85 L956.45,356.28 L959.71,358.72 L963.04,361.16 L966.43,363.60 L969.88,366.04 L973.39,368.48 L976.95,370.92 L980.58,373.36 L984.26,375.80 L988.00,378.23 L991.80,380.67 L995.66,383.10 L999.56,385.53 L1003.53,387.95 L1007.55,390.38 L1011.62,392.80 L1015.74,395.22 L1019.92,397.64 L1024.15,400.05 L1028.44,402.46 L1032.77,404.87 L1037.16,407.27 L1041.59,409.67 L1046.08,412.07 L1050.62,414.46 L1055.21,416.85 L1059.84,419.23 L1064.53,421.62 L1069.27,423.99 L1074.05,426.37 L1078.88,428.74 L1083.76,431.11 L1088.69,433.47 L1093.66,435.83 L1098.68,438.19 L1103.75,440.54 L1108.86,442.89 L1114.02,445.24 L1119.22,447.58 L1124.48,449.92 L1129.77,452.26 L1135.11,454.59 L1140.50,456.92 L1145.93,459.24 L1151.40,461.56 L1156.92,463.88 L1162.48,466.19 L1168.09,468.50 L1173.73,470.81 L1179.43,473.11 L1185.16,475.41 L1190.94,477.71 L1196.76,480.00 L1202.62,482.29 L1208.52,484.57 L1214.47,486.86 L1220.45,489.13 L1226.48,491.41 L1232.55,493.68 L1238.66,495.95 L1244.82,498.22 L1251.01,500.48 L1257.24,502.74 L1263.51,504.99 L1269.83,507.24 L1276.18,509.49 L1282.57,511.74 L1289.01,513.98 L1295.48,516.22 L1301.99,518.46 L1308.54,520.69 L1315.13,522.92 L1321.76,525.15 L1328.43,527.37 L1335.14,529.59 L1341.88,531.81 L1348.66,534.03 L1355.48,536.24 L1362.34,538.45 L1369.24,540.65 L1376.18,542.86 L1383.15,545.06 L1390.16,547.25 L1397.20,549.45 L1404.29,551.64 L1411.41,553.83 L1418.57,556.01 L1425.76,558.19 L1432.99,560.37" stroke="#1e90ff" stroke-width="2.7"/><path d="M970.00,292.50 L1005.00,294.40 L1050.80,295.20 L1074.00,294.10 L1096.50,297.60 L1119.00,303.70 L1141.50,308.90 L1164.00,313.40 L1186.50,317.90 L1204.00,321.20 L1227.00,325.20 L1250.00,329.70 L1272.00,331.60 L1295.50,333.00 L1319.00,334.20 L1341.00,335.30 L1365.00,336.00 L1388.00,337.30 L1411.00,338.20 L1419.00,338.60" stroke="#111" stroke-width="2" stroke-dasharray="11.5 11.5"/><path d="M964.72,112.70 L1000.20,123.80 L1035.67,138.30 L1071.15,167.90 L1142.10,234.50 L1213.05,273.60 L1301.74,266.40 L1390.42,281.10" stroke="#000" stroke-width="3.8" stroke-linejoin="miter"/></g><line x1="995.50" y1="68.5" x2="995.50" y2="456.60" stroke="#1c1c1c" stroke-width="1.3"/><line x1="1223.50" y1="68.5" x2="1223.50" y2="456.60" stroke="#1c1c1c" stroke-width="1.3"/><path d="M893.77,456.60v-5 M929.25,456.60v-5 M964.72,456.60v-5 M1000.20,456.60v-5 M1035.67,456.60v-10 M1071.15,456.60v-5 M1106.62,456.60v-5 M1142.10,456.60v-5 M1177.58,456.60v-5 M1213.05,456.60v-10 M1248.53,456.60v-5 M1284.00,456.60v-5 M1319.47,456.60v-5 M1354.95,456.60v-5 M1390.42,456.60v-10 M885.64,64.70v5 M912.98,64.70v5 M940.32,64.70v5 M967.66,64.70v5 M995.00,64.70v10 M1022.34,64.70v5 M1049.68,64.70v5 M1077.02,64.70v5 M1104.36,64.70v5 M1131.70,64.70v10 M1159.04,64.70v5 M1186.38,64.70v5 M1213.72,64.70v5 M1241.06,64.70v5 M1268.40,64.70v10 M1295.74,64.70v5 M1323.08,64.70v5 M1350.42,64.70v5 M1377.76,64.70v5 M1405.10,64.70v10 M858.30,427.13h5 M858.30,409.87h5 M858.30,397.63h5 M858.30,388.13h5 M858.30,380.38h5 M858.30,373.82h5 M858.30,368.14h5 M858.30,363.12h5 M858.30,358.64h10 M858.30,329.15h5 M858.30,311.89h5 M858.30,299.65h5 M858.30,290.15h5 M858.30,282.40h5 M858.30,275.84h5 M858.30,270.16h5 M858.30,265.14h5 M858.30,260.66h10 M858.30,231.17h5 M858.30,213.91h5 M858.30,201.67h5 M858.30,192.17h5 M858.30,184.42h5 M858.30,177.86h5 M858.30,172.18h5 M858.30,167.16h5 M858.30,162.68h10 M858.30,133.19h5 M858.30,115.93h5 M858.30,103.69h5 M858.30,94.19h5 M858.30,86.44h5 M858.30,79.88h5 M858.30,74.20h5 M858.30,69.18h5 M1425.90,454.68h-5 M1425.90,448.12h-5 M1425.90,442.44h-5 M1425.90,437.42h-5 M1425.90,432.94h-10 M1425.90,403.45h-5 M1425.90,386.19h-5 M1425.90,373.95h-5 M1425.90,364.45h-5 M1425.90,356.70h-5 M1425.90,350.14h-5 M1425.90,344.46h-5 M1425.90,339.44h-5 M1425.90,334.96h-10 M1425.90,305.47h-5 M1425.90,288.21h-5 M1425.90,275.97h-5 M1425.90,266.47h-5 M1425.90,258.72h-5 M1425.90,252.16h-5 M1425.90,246.48h-5 M1425.90,241.46h-5 M1425.90,236.98h-10 M1425.90,207.49h-5 M1425.90,190.23h-5 M1425.90,177.99h-5 M1425.90,168.49h-5 M1425.90,160.74h-5 M1425.90,154.18h-5 M1425.90,148.50h-5 M1425.90,143.48h-5 M1425.90,139.00h-10 M1425.90,109.51h-5 M1425.90,92.25h-5 M1425.90,80.01h-5 M1425.90,70.51h-5" stroke="#000" stroke-width="2" fill="none"/><rect x="858.30" y="64.70" width="567.60" height="391.90" fill="none" stroke="#000" stroke-width="2" stroke-linejoin="round"/><text x="842.72" y="56.50" font-size="26" textLength="33.36" lengthAdjust="spacingAndGlyphs">0.0</text><text x="979.45" y="56.50" font-size="26" textLength="33.36" lengthAdjust="spacingAndGlyphs">0.5</text><text x="1116.37" y="56.50" font-size="26" textLength="33.36" lengthAdjust="spacingAndGlyphs">1.0</text><text x="1253.11" y="56.50" font-size="26" textLength="33.36" lengthAdjust="spacingAndGlyphs">1.5</text><text x="1389.38" y="56.50" font-size="26" textLength="33.36" lengthAdjust="spacingAndGlyphs">2.0</text><text x="842.12" y="488.40" font-size="26" textLength="33.36" lengthAdjust="spacingAndGlyphs">0.0</text><text x="1019.53" y="488.40" font-size="26" textLength="33.36" lengthAdjust="spacingAndGlyphs">0.5</text><text x="1197.42" y="488.40" font-size="26" textLength="33.36" lengthAdjust="spacingAndGlyphs">1.0</text><text x="1374.83" y="488.40" font-size="26" textLength="33.36" lengthAdjust="spacingAndGlyphs">1.5</text><text x="0.96" y="25.90" font-size="37" textLength="19.82" lengthAdjust="spacingAndGlyphs" font-weight="bold" >a</text><text x="226.99" y="21.80" font-size="25" textLength="279.23" lengthAdjust="spacingAndGlyphs" >Projected Separation (au)</text><text x="228.25" y="525.00" font-size="24.2" textLength="297.03" lengthAdjust="spacingAndGlyphs" >Angular Separation (arcsec)</text><text x="37.98" y="80.70" font-size="26" textLength="26.55" lengthAdjust="spacingAndGlyphs" >10</text><text x="64.34" y="69.50" font-size="15.5" textLength="17.64" lengthAdjust="spacingAndGlyphs" >−3</text><text x="37.98" y="172.30" font-size="26" textLength="26.55" lengthAdjust="spacingAndGlyphs" >10</text><text x="64.35" y="161.10" font-size="15.5" textLength="17.40" lengthAdjust="spacingAndGlyphs" >−4</text><text x="37.98" y="269.90" font-size="26" textLength="26.55" lengthAdjust="spacingAndGlyphs" >10</text><text x="64.34" y="258.70" font-size="15.5" textLength="17.61" lengthAdjust="spacingAndGlyphs" >−5</text><text x="37.98" y="368.20" font-size="26" textLength="26.55" lengthAdjust="spacingAndGlyphs" >10</text><text x="64.34" y="357.00" font-size="15.5" textLength="17.64" lengthAdjust="spacingAndGlyphs" >−6</text><text x="37.98" y="457.40" font-size="26" textLength="26.55" lengthAdjust="spacingAndGlyphs" >10</text><text x="64.33" y="446.20" font-size="15.5" textLength="17.75" lengthAdjust="spacingAndGlyphs" >−7</text><text x="660.77" y="84.90" font-size="25" textLength="40.04" lengthAdjust="spacingAndGlyphs">100</text><text x="660.77" y="184.30" font-size="25" textLength="26.70" lengthAdjust="spacingAndGlyphs">10</text><text x="660.77" y="281.00" font-size="25" textLength="13.35" lengthAdjust="spacingAndGlyphs">1</text><text x="661.66" y="375.50" font-size="25" textLength="33.36" lengthAdjust="spacingAndGlyphs">0.1</text><text transform="translate(18.60,306.40) rotate(-90)" x="-1.24" y="0" font-size="24" textLength="92.42" lengthAdjust="spacingAndGlyphs">Contrast</text><text transform="translate(716.60,279.00) rotate(-90)" x="-1.59" y="0" font-size="24" textLength="43.83" lengthAdjust="spacingAndGlyphs">mJy</text><text transform="translate(369.60,161.20) rotate(-90)" x="-1.57" y="0" font-size="20" textLength="89.22" lengthAdjust="spacingAndGlyphs">Hab. Zone</text><text x="439.97" y="103.10" font-size="18.3" textLength="174.84" lengthAdjust="spacingAndGlyphs" fill="#1e90ff" >Cold planets: T=1.1 T</text><text x="614.21" y="110.50" font-size="12.5" textLength="16.24" lengthAdjust="spacingAndGlyphs" fill="#1e90ff" >Eq</text><text x="439.41" y="128.90" font-size="18.3" textLength="175.71" lengthAdjust="spacingAndGlyphs" fill="#dc143c" xml:space="preserve">Hot planets:   T=1.5 T</text><text x="614.51" y="136.30" font-size="12.5" textLength="16.24" lengthAdjust="spacingAndGlyphs" fill="#dc143c" >Eq</text><g transform="translate(111.20,420.50)"><path d="M5.5,0.4 A5.5,7.05 0 1 0 5.5,14.5 A5.5,7.05 0 1 0 5.5,0.4 Z M6.3,1.45 A3.5,6.0 0 1 1 6.3,13.45 A3.5,6.0 0 1 1 6.3,1.45 Z" fill="#000" fill-rule="evenodd"/><path d="M14.3,0.8 C13.2,4.5 11.7,9 11.6,11.5 C11.5,13.6 12.4,14.5 13.6,14.1 C14.8,13.7 15.9,12.2 16.7,11.0" fill="none" stroke="#000" stroke-width="1.45"/></g><text x="135.12" y="435.00" font-size="29.2" textLength="75.53" lengthAdjust="spacingAndGlyphs" >Cen A</text><text x="108.78" y="85.10" font-size="19.3" fill="#e9687f" stroke="#e9687f" stroke-width="0.35">J</text><text x="108.78" y="107.60" font-size="19.3" fill="#6cb0fb" stroke="#6cb0fb" stroke-width="0.35">J</text><text x="105.34" y="158.20" font-size="19.3" fill="#e9687f" stroke="#e9687f" stroke-width="0.35">N</text><text x="105.34" y="180.80" font-size="19.3" fill="#6cb0fb" stroke="#6cb0fb" stroke-width="0.35">N</text><text x="95.28" y="235.90" font-size="19.3" fill="#e9687f" stroke="#e9687f" stroke-width="0.35">SE</text><text x="95.28" y="258.90" font-size="19.3" fill="#6cb0fb" stroke="#6cb0fb" stroke-width="0.35">SE</text><text x="105.16" y="289.00" font-size="19.3" fill="#e9687f" stroke="#e9687f" stroke-width="0.35">E</text><text x="105.16" y="311.40" font-size="19.3" fill="#6cb0fb" stroke="#6cb0fb" stroke-width="0.35">E</text><text x="776.61" y="26.40" font-size="37" textLength="24.00" lengthAdjust="spacingAndGlyphs" font-weight="bold" >b</text><text x="1003.69" y="21.80" font-size="25" textLength="279.03" lengthAdjust="spacingAndGlyphs" >Projected Separation (au)</text><text x="998.75" y="525.00" font-size="24.2" textLength="295.82" lengthAdjust="spacingAndGlyphs" >Angular Separation (arcsec)</text><text x="809.88" y="80.30" font-size="26" textLength="26.55" lengthAdjust="spacingAndGlyphs" >10</text><text x="836.24" y="69.10" font-size="15.5" textLength="17.64" lengthAdjust="spacingAndGlyphs" >−3</text><text x="809.88" y="172.30" font-size="26" textLength="26.55" lengthAdjust="spacingAndGlyphs" >10</text><text x="836.25" y="161.10" font-size="15.5" textLength="17.40" lengthAdjust="spacingAndGlyphs" >−4</text><text x="809.88" y="270.30" font-size="26" textLength="26.55" lengthAdjust="spacingAndGlyphs" >10</text><text x="836.24" y="259.10" font-size="15.5" textLength="17.61" lengthAdjust="spacingAndGlyphs" >−5</text><text x="809.88" y="368.20" font-size="26" textLength="26.55" lengthAdjust="spacingAndGlyphs" >10</text><text x="836.24" y="357.00" font-size="15.5" textLength="17.64" lengthAdjust="spacingAndGlyphs" >−6</text><text x="809.88" y="457.40" font-size="26" textLength="26.55" lengthAdjust="spacingAndGlyphs" >10</text><text x="836.23" y="446.20" font-size="15.5" textLength="17.75" lengthAdjust="spacingAndGlyphs" >−7</text><text x="1432.77" y="147.30" font-size="25" textLength="26.70" lengthAdjust="spacingAndGlyphs">10</text><text x="1432.77" y="244.30" font-size="25" textLength="13.35" lengthAdjust="spacingAndGlyphs">1</text><text x="1433.66" y="343.40" font-size="25" textLength="33.36" lengthAdjust="spacingAndGlyphs">0.1</text><text x="1433.66" y="437.50" font-size="25" textLength="46.71" lengthAdjust="spacingAndGlyphs">0.01</text><text transform="translate(796.20,307.50) rotate(-90)" x="-1.24" y="0" font-size="24" textLength="92.52" lengthAdjust="spacingAndGlyphs">Contrast</text><text transform="translate(1488.50,279.00) rotate(-90)" x="-1.59" y="0" font-size="24" textLength="43.83" lengthAdjust="spacingAndGlyphs">mJy</text><text transform="translate(1216.60,162.50) rotate(-90)" x="-1.59" y="0" font-size="20" textLength="90.55" lengthAdjust="spacingAndGlyphs">Hab. Zone</text><text x="1234.57" y="103.00" font-size="18.3" textLength="174.74" lengthAdjust="spacingAndGlyphs" fill="#1e90ff" >Cold planets: T=1.1 T</text><text x="1408.54" y="110.40" font-size="12.5" textLength="15.78" lengthAdjust="spacingAndGlyphs" fill="#1e90ff" >Eq</text><text x="1234.31" y="128.70" font-size="18.3" textLength="175.61" lengthAdjust="spacingAndGlyphs" fill="#dc143c" xml:space="preserve">Hot planets:   T=1.5 T</text><text x="1408.94" y="136.10" font-size="12.5" textLength="15.78" lengthAdjust="spacingAndGlyphs" fill="#dc143c" >Eq</text><g transform="translate(899.60,422.60)"><path d="M5.5,0.4 A5.5,7.05 0 1 0 5.5,14.5 A5.5,7.05 0 1 0 5.5,0.4 Z M6.3,1.45 A3.5,6.0 0 1 1 6.3,13.45 A3.5,6.0 0 1 1 6.3,1.45 Z" fill="#000" fill-rule="evenodd"/><path d="M14.3,0.8 C13.2,4.5 11.7,9 11.6,11.5 C11.5,13.6 12.4,14.5 13.6,14.1 C14.8,13.7 15.9,12.2 16.7,11.0" fill="none" stroke="#000" stroke-width="1.45"/></g><text x="924.61" y="436.70" font-size="29.2" textLength="76.14" lengthAdjust="spacingAndGlyphs" >Cen B</text><text x="880.28" y="94.00" font-size="19.3" fill="#6cb0fb" stroke="#6cb0fb" stroke-width="0.35">J</text><text x="878.04" y="144.50" font-size="19.3" fill="#e9687f" stroke="#e9687f" stroke-width="0.35">N</text><text x="878.04" y="167.80" font-size="19.3" fill="#6cb0fb" stroke="#6cb0fb" stroke-width="0.35">N</text><text x="867.28" y="222.20" font-size="19.3" fill="#e9687f" stroke="#e9687f" stroke-width="0.35">SE</text><text x="867.28" y="244.90" font-size="19.3" fill="#6cb0fb" stroke="#6cb0fb" stroke-width="0.35">SE</text><text x="877.56" y="275.00" font-size="19.3" fill="#e9687f" stroke="#e9687f" stroke-width="0.35">E</text><text x="877.56" y="298.20" font-size="19.3" fill="#6cb0fb" stroke="#6cb0fb" stroke-width="0.35">E</text><path id="snra" d="M396.61,307.58 L398.85,308.52 L401.09,309.45 L403.32,310.36 L405.56,311.26 L407.80,312.13 L410.04,313.00 L412.28,313.84 L414.52,314.67 L416.76,315.48 L418.99,316.27 L421.23,317.05 L423.47,317.81 L425.71,318.56 L427.95,319.29 L430.19,320.00 L432.43,320.70 L434.66,321.38 L436.90,322.04 L439.14,322.69 L441.38,323.32 L443.62,323.94 L445.86,324.54 L448.10,325.13 L450.33,325.70 L452.57,326.25 L454.81,326.79 L457.05,327.31 L459.29,327.82 L461.53,328.31 L463.77,328.79 L466.00,329.25 L468.24,329.70 L470.48,330.13 L472.72,330.54 L474.96,330.95 L477.20,331.33 L479.44,331.70 L481.67,332.06 L483.91,332.40 L486.15,332.73 L488.39,333.04 L490.63,333.34 L492.87,333.62 L495.11,333.89 L497.34,334.15 L499.58,334.39 L501.82,334.61 L504.06,334.82 L506.30,335.02 L508.54,335.20 L510.78,335.37 L513.01,335.53 L515.25,335.67 L517.49,335.80 L519.73,335.91 L521.97,336.01 L524.21,336.09 L526.45,336.17 L528.68,336.23 L530.92,336.27 L533.16,336.30 L535.40,336.32 L537.64,336.32 L539.88,336.32 L542.12,336.29 L544.35,336.26 L546.59,336.21 L548.83,336.15 L551.07,336.08 L553.31,335.99 L555.55,335.89 L557.79,335.78 L560.02,335.65 L562.26,335.51 L564.50,335.36 L566.74,335.20 L568.98,335.02 L571.22,334.83 L573.46,334.63 L575.70,334.42 L577.93,334.19 L580.17,333.96 L582.41,333.71 L584.65,333.44 L586.89,333.17 L589.13,332.88 L591.37,332.59 L593.60,332.28 L595.84,331.95 L598.08,331.62 L600.32,331.27 L602.56,330.92 L604.80,330.55 L607.04,330.17 L609.27,329.78 L611.51,329.37 L613.75,328.96 L615.99,328.53 L618.23,328.10 L620.47,327.65 L622.71,327.19 L624.94,326.72 L627.18,326.24 L629.42,325.75 L631.66,325.24 L633.90,324.73 L636.14,324.21 L638.38,323.67 L640.61,323.12 L642.85,322.57 L645.09,322.00 L647.33,321.42 L649.57,320.84 L651.81,320.24 L654.05,319.63 L656.28,319.01 L658.52,318.38 L660.76,317.74 L663.00,317.09" fill="none"/><text font-size="21.33" stroke="#000" stroke-width="0.3"><textPath href="#snra">SNR~3 injection/recovery</textPath></text><path id="snrb" d="M1148.59,229.62 L1150.87,230.43 L1153.14,231.23 L1155.41,232.02 L1157.68,232.79 L1159.96,233.56 L1162.23,234.32 L1164.50,235.07 L1166.77,235.80 L1169.04,236.53 L1171.32,237.24 L1173.59,237.95 L1175.86,238.65 L1178.13,239.33 L1180.41,240.01 L1182.68,240.68 L1184.95,241.33 L1187.22,241.98 L1189.50,242.62 L1191.77,243.25 L1194.04,243.86 L1196.31,244.47 L1198.59,245.07 L1200.86,245.66 L1203.13,246.24 L1205.40,246.81 L1207.67,247.37 L1209.95,247.93 L1212.22,248.47 L1214.49,249.00 L1216.76,249.53 L1219.04,250.04 L1221.31,250.55 L1223.58,251.05 L1225.85,251.54 L1228.13,252.02 L1230.40,252.49 L1232.67,252.95 L1234.94,253.40 L1237.21,253.85 L1239.49,254.29 L1241.76,254.71 L1244.03,255.13 L1246.30,255.54 L1248.58,255.95 L1250.85,256.34 L1253.12,256.73 L1255.39,257.10 L1257.67,257.47 L1259.94,257.83 L1262.21,258.19 L1264.48,258.53 L1266.75,258.87 L1269.03,259.20 L1271.30,259.52 L1273.57,259.83 L1275.84,260.14 L1278.12,260.43 L1280.39,260.72 L1282.66,261.01 L1284.93,261.28 L1287.21,261.55 L1289.48,261.81 L1291.75,262.06 L1294.02,262.30 L1296.29,262.54 L1298.57,262.77 L1300.84,262.99 L1303.11,263.21 L1305.38,263.42 L1307.66,263.62 L1309.93,263.81 L1312.20,264.00 L1314.47,264.18 L1316.75,264.35 L1319.02,264.52 L1321.29,264.68 L1323.56,264.83 L1325.83,264.98 L1328.11,265.12 L1330.38,265.25 L1332.65,265.37 L1334.92,265.49 L1337.20,265.61 L1339.47,265.71 L1341.74,265.81 L1344.01,265.91 L1346.29,265.99 L1348.56,266.08 L1350.83,266.15 L1353.10,266.22 L1355.38,266.28 L1357.65,266.34 L1359.92,266.39 L1362.19,266.43 L1364.46,266.47 L1366.74,266.51 L1369.01,266.53 L1371.28,266.56 L1373.55,266.57 L1375.83,266.58 L1378.10,266.59 L1380.37,266.59 L1382.64,266.58 L1384.92,266.57 L1387.19,266.55 L1389.46,266.53 L1391.73,266.50 L1394.00,266.47 L1396.28,266.43 L1398.55,266.39 L1400.82,266.34 L1403.09,266.29 L1405.37,266.23 L1407.64,266.16 L1409.91,266.10 L1412.18,266.02 L1414.46,265.94 L1416.73,265.86 L1419.00,265.77" fill="none"/><text font-size="21.18" stroke="#000" stroke-width="0.3"><textPath href="#snrb">SNR~3<tspan dx="5"> injection/recovery</tspan></textPath></text><path id="nza" d="M463.31,358.46 L465.06,358.70 L466.80,358.94 L468.55,359.18 L470.30,359.41 L472.05,359.64 L473.79,359.87 L475.54,360.10 L477.29,360.32 L479.03,360.54 L480.78,360.76 L482.53,360.97 L484.27,361.19 L486.02,361.39 L487.77,361.60 L489.51,361.80 L491.26,362.00 L493.01,362.20 L494.76,362.39 L496.50,362.58 L498.25,362.77 L500.00,362.96 L501.74,363.14 L503.49,363.32 L505.24,363.50 L506.98,363.67 L508.73,363.84 L510.48,364.01 L512.23,364.18 L513.97,364.34 L515.72,364.50 L517.47,364.66 L519.21,364.81 L520.96,364.96 L522.71,365.11 L524.45,365.26 L526.20,365.40 L527.95,365.54 L529.70,365.68 L531.44,365.81 L533.19,365.94 L534.94,366.07 L536.68,366.20 L538.43,366.32 L540.18,366.44 L541.92,366.56 L543.67,366.68 L545.42,366.79 L547.17,366.90 L548.91,367.01 L550.66,367.11 L552.41,367.21 L554.15,367.31 L555.90,367.41 L557.65,367.50 L559.39,367.59 L561.14,367.68 L562.89,367.76 L564.63,367.85 L566.38,367.93 L568.13,368.00 L569.88,368.08 L571.62,368.15 L573.37,368.22 L575.12,368.29 L576.86,368.35 L578.61,368.41 L580.36,368.47 L582.10,368.52 L583.85,368.58 L585.60,368.63 L587.35,368.68 L589.09,368.72 L590.84,368.76 L592.59,368.80 L594.33,368.84 L596.08,368.88 L597.83,368.91 L599.57,368.94 L601.32,368.96 L603.07,368.99 L604.82,369.01 L606.56,369.03 L608.31,369.04 L610.06,369.06 L611.80,369.07 L613.55,369.08 L615.30,369.08 L617.04,369.09 L618.79,369.09 L620.54,369.09 L622.28,369.08 L624.03,369.08 L625.78,369.07 L627.53,369.05 L629.27,369.04 L631.02,369.02 L632.77,369.00 L634.51,368.98 L636.26,368.96 L638.01,368.93 L639.75,368.90 L641.50,368.87 L643.25,368.83 L645.00,368.80 L646.74,368.76 L648.49,368.71 L650.24,368.67 L651.98,368.62 L653.73,368.57 L655.48,368.52 L657.22,368.47 L658.97,368.41 L660.72,368.35 L662.47,368.29 L664.21,368.22 L665.96,368.16 L667.71,368.09 L669.45,368.01 L671.20,367.94" fill="none"/><text font-size="20.93" fill="#333"><textPath href="#nza">3σ pixel-pixel noise</textPath></text><path id="nzb" d="M1236.41,323.57 L1238.15,323.78 L1239.90,323.99 L1241.64,324.19 L1243.39,324.40 L1245.13,324.60 L1246.88,324.80 L1248.62,325.00 L1250.37,325.19 L1252.11,325.39 L1253.85,325.58 L1255.60,325.77 L1257.34,325.96 L1259.09,326.14 L1260.83,326.32 L1262.58,326.50 L1264.32,326.68 L1266.07,326.86 L1267.81,327.03 L1269.55,327.21 L1271.30,327.38 L1273.04,327.55 L1274.79,327.71 L1276.53,327.87 L1278.28,328.04 L1280.02,328.20 L1281.77,328.35 L1283.51,328.51 L1285.25,328.66 L1287.00,328.81 L1288.74,328.96 L1290.49,329.11 L1292.23,329.25 L1293.98,329.40 L1295.72,329.54 L1297.47,329.67 L1299.21,329.81 L1300.95,329.94 L1302.70,330.08 L1304.44,330.21 L1306.19,330.33 L1307.93,330.46 L1309.68,330.58 L1311.42,330.70 L1313.17,330.82 L1314.91,330.94 L1316.65,331.05 L1318.40,331.17 L1320.14,331.28 L1321.89,331.39 L1323.63,331.49 L1325.38,331.60 L1327.12,331.70 L1328.87,331.80 L1330.61,331.90 L1332.36,331.99 L1334.10,332.08 L1335.84,332.18 L1337.59,332.26 L1339.33,332.35 L1341.08,332.44 L1342.82,332.52 L1344.57,332.60 L1346.31,332.68 L1348.06,332.75 L1349.80,332.83 L1351.54,332.90 L1353.29,332.97 L1355.03,333.04 L1356.78,333.10 L1358.52,333.17 L1360.27,333.23 L1362.01,333.29 L1363.76,333.35 L1365.50,333.40 L1367.24,333.45 L1368.99,333.50 L1370.73,333.55 L1372.48,333.60 L1374.22,333.64 L1375.97,333.68 L1377.71,333.72 L1379.46,333.76 L1381.20,333.80 L1382.94,333.83 L1384.69,333.86 L1386.43,333.89 L1388.18,333.92 L1389.92,333.94 L1391.67,333.97 L1393.41,333.99 L1395.16,334.01 L1396.90,334.02 L1398.64,334.04 L1400.39,334.05 L1402.13,334.06 L1403.88,334.07 L1405.62,334.07 L1407.37,334.08 L1409.11,334.08 L1410.86,334.08 L1412.60,334.07 L1414.34,334.07 L1416.09,334.06 L1417.83,334.05 L1419.58,334.04 L1421.32,334.03 L1423.07,334.01 L1424.81,333.99 L1426.56,333.97 L1428.30,333.95 L1430.04,333.93 L1431.79,333.90 L1433.53,333.87 L1435.28,333.84 L1437.02,333.81 L1438.77,333.77 L1440.51,333.73 L1442.26,333.70 L1444.00,333.65" fill="none"/><text font-size="20.89" fill="#333"><textPath href="#nzb">3σ pixel-pixel noise</textPath></text></svg>
</body></html>
